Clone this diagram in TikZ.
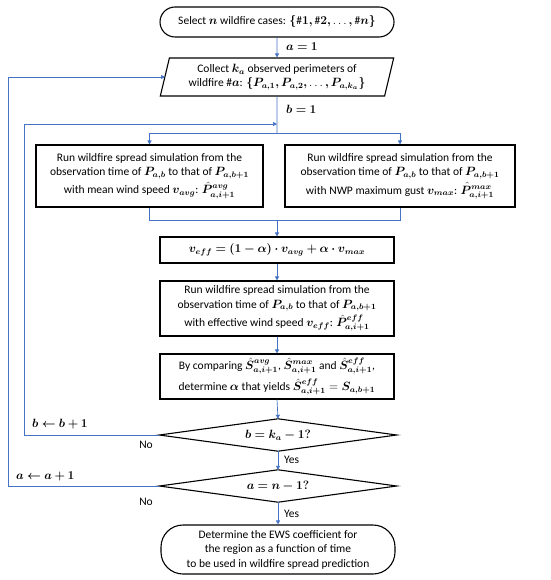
\documentclass[tikz,border=0pt]{standalone}
\usepackage{amsmath,bm}
\usepackage{fontspec}
\setmainfont{Carlito}
\usetikzlibrary{shapes.geometric,arrows.meta}
\definecolor{lineblue}{RGB}{68,114,196}
\newcommand{\bv}[1]{\bm{#1}}
\newcommand{\mydots}{\mathinner{\ldotp\ldotp\ldotp}}
\newcommand{\Ph}[1]{\hat{\bm{P}}^{\bm{#1}}_{\bm{a,i+1}}}
\newcommand{\Sh}[1]{\hat{\bm{S}}^{\bm{#1}}_{\bm{a,i+1}}}
\begin{document}
\begin{tikzpicture}[x=1pt,y=-1pt,
  every node/.style={font=\fontsize{11.5}{14.5}\selectfont},
  box/.style={draw=black, line width=1.1pt, align=center, inner sep=1pt, minimum width=234pt},
  term/.style={box, rounded corners=15pt},
  para/.style={draw=black, line width=1.1pt, align=center, trapezium, trapezium left angle=75, trapezium right angle=105, trapezium stretches=true, inner sep=1pt, minimum width=234pt, minimum height=38pt},
  deci/.style={inner sep=0pt, minimum width=237pt, minimum height=32pt},
  conn/.style={draw=lineblue, line width=0.7pt},
  arr/.style={conn, -{Triangle[length=4pt,width=4pt]}},
  lbl/.style={inner sep=0pt}
]
\useasboundingbox (0,0) rectangle (550,580);
\node[term, minimum height=30pt] (start) at (277,22) {Select $\bv n$ wildfire cases: $\bm{\{\#1,\#2,}\mydots\bm{,\#n\}}$};
\node[para] (collect) at (277,77) {Collect $\bm{k_a}$ observed perimeters of\\ wildfire \#$\bm a$: $\bm{\{P_{a,1},P_{a,2},}\mydots\bm{,P_{a,k_a}\}}$};
\node[box, minimum width=227pt, minimum height=62pt] (simavg) at (149.5,176) {Run wildfire spread simulation from the\\ observation time of $\bm{P_{a,b}}$ to that of $\bm{P_{a,b+1}}$\\[2.5pt] with mean wind speed $\bm{v_{avg}}$: $\Ph{avg}$};
\node[box, minimum width=230pt, minimum height=62pt] (simmax) at (400,176) {Run wildfire spread simulation from the\\ observation time of $\bm{P_{a,b}}$ to that of $\bm{P_{a,b+1}}$\\[2.5pt] with NWP maximum gust $\bm{v_{max}}$: $\Ph{max}$};
\node[box, minimum height=26pt] (veff) at (277,250) {$\bm{v_{eff} = (1-\alpha)\cdot v_{avg} + \alpha\cdot v_{max}}$};
\node[box, minimum height=55pt] (simeff) at (277,308.5) {Run wildfire spread simulation from the\\ observation time of $\bm{P_{a,b}}$ to that of $\bm{P_{a,b+1}}$\\[2.5pt] with effective wind speed $\bm{v_{eff}}$: $\Ph{eff}$};
\node[box, minimum height=45pt] (compare) at (277,376.5) {By comparing $\Sh{avg}$, $\Sh{max}$ and $\Sh{eff}$,\\[4pt] determine $\bm\alpha$ that yields $\Sh{eff} = \bm{S_{a,b+1}}$};
\node[deci] (d1) at (278,435) {$\bm{b = k_a - 1?}$};
\node[deci] (d2) at (278,486) {$\bm{a = n - 1?}$};
\draw[black, line width=1.1pt] (d1.north) -- (d1.east) -- (d1.south) -- (d1.west) -- cycle;
\draw[black, line width=1.1pt] (d2.north) -- (d2.east) -- (d2.south) -- (d2.west) -- cycle;
\node[term, rounded corners=22pt, minimum height=49pt] (end) at (278,549.5) {Determine the EWS coefficient for\\ the region as a function of time\\ to be used in wildfire spread prediction};
% junction coordinates
\coordinate (jb) at (277,124);
\coordinate (j1) at (277,133);
\coordinate (j2) at (277,220);
\coordinate (lb) at (24,124);
\coordinate (la) at (8,77);
\coordinate (lbb) at (24,435);
\coordinate (lab) at (8,486);
\coordinate (pl) at (165,77);
% connectors
\draw[arr] (start.south) -- (collect.north);
\draw[conn] (collect.south) -- (j1);
\draw[arr] (j1) -| (simavg.north);
\draw[arr] (j1) -| (simmax.north);
\draw[conn] (simavg.south) |- (j2);
\draw[conn] (simmax.south) |- (j2);
\draw[arr] (j2) -- (veff.north);
\draw[arr] (veff.south) -- (simeff.north);
\draw[arr] (simeff.south) -- (compare.north);
\draw[arr] (compare.south) -- (d1.north);
\draw[arr] (d1.south) -- (d2.north);
\draw[arr] (d2.south) -- (end.north);
\draw[arr] (d1.west) -- (lbb) -- (lb) -- (jb);
\draw[arr] (d2.west) -- (lab) -- (la) -- (pl);
% labels
\node[lbl, anchor=west] at (286,47) {$\bm{a = 1}$};
\node[lbl, anchor=west] at (286,109) {$\bm{b = 1}$};
\node[lbl, anchor=west] at (32,424) {$\bm{b \leftarrow b + 1}$};
\node[lbl, anchor=west] at (16,476) {$\bm{a \leftarrow a + 1}$};
\node[lbl] at (146,445) {No};
\node[lbl] at (146,502) {No};
\node[lbl, anchor=west] at (284,460) {Yes};
\node[lbl, anchor=west] at (284,514) {Yes};
\end{tikzpicture}
\end{document}
